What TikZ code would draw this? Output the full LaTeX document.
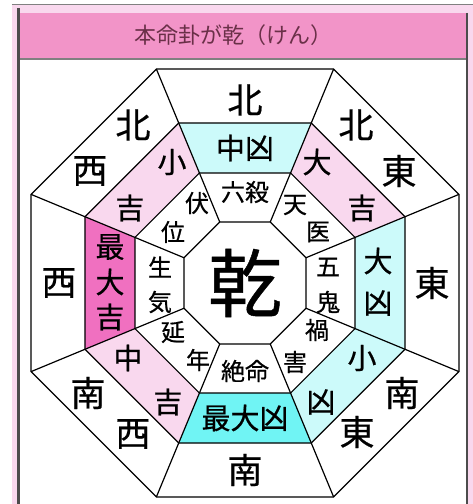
\documentclass[tikz,border=0pt]{standalone}
\usepackage{fontspec}
\setmainfont{Noto Sans CJK JP}
\newfontfamily\zufont{Noto Sans CJK JP}[FakeBold=0.6]
\definecolor{palepink}{HTML}{F9D8EE}
\definecolor{titlepink}{HTML}{F294C8}
\definecolor{hotpink}{HTML}{F070C0}
\definecolor{palecyan}{HTML}{CCFAFA}
\definecolor{hotcyan}{HTML}{70F4F4}
\definecolor{titletext}{HTML}{6A3048}
\tikzset{%
	edge/.style={line width=1.2pt,black,line join=miter},
	houi/.style={inner sep=0pt,font=\zufont\fontsize{35}{35}\selectfont},
	kikkyo/.style={inner sep=0pt,font=\zufont\fontsize{29}{29}\selectfont},
	youso/.style={inner sep=0pt,font=\zufont\fontsize{24}{24}\selectfont}
}

\begin{document}
\begin{tikzpicture}[x=1pt,y=1pt]
		\useasboundingbox (-245,-221) rectangle (228,283);

		% frame and title bar
		\fill[palepink] (-233,-221) rectangle (228,278);
		\fill[white] (-225,-221) rectangle (222,224);
		\fill[titlepink] (-225,224) rectangle (222,270);
		\draw[gray,line width=1.5pt] (-233,278.5)--(228,278.5);
		\draw[gray,line width=1.2pt] (-225,224)--(222,224);
		\draw[black!70,line width=2.5pt] (-226.5,275)--(-226.5,-221);
		\draw[black!70,line width=1.5pt] (222,270)--(222,-221);
		\node[font=\fontsize{22}{22}\selectfont,text=titletext] (title) at (-11,248) {本命卦が乾（けん）};

		% coloured ring
		\foreach \a/\c in {90/palecyan,45/palepink,0/palecyan,-45/palecyan,-90/hotcyan,-135/palepink,180/hotpink,135/palepink}
			\fill[\c] ({\a-22.5}:119.1)--({\a-22.5}:173.2)--({\a+22.5}:173.2)--({\a+22.5}:119.1)--cycle;

		% octagons and spokes
		\foreach \r in {66,119.1,173.2,231.6}
			\draw[edge] (22.5:\r)--(67.5:\r)--(112.5:\r)--(157.5:\r)--(202.5:\r)--(247.5:\r)--(292.5:\r)--(337.5:\r)--cycle;
		\foreach \a in {22.5,67.5,...,337.5}
			\draw[edge] (\a:66)--(\a:231.6);

		\node[inner sep=0pt,font=\zufont\fontsize{74}{74}\selectfont] (gua) at (0,0) {乾};

		% directions
		\node[houi] (dirN) at (0,183) {北};
		\node[houi] (dirS) at (0,-187) {南};
		\node[houi] (dirW) at (-186,0) {西};
		\node[houi] (dirE) at (187,0) {東};
		\node[houi] (dirNWa) at (-112,158) {北};
		\node[houi] (dirNWb) at (-155,112) {西};
		\node[houi] (dirNEa) at (111,158) {北};
		\node[houi] (dirNEb) at (154,112) {東};
		\node[houi] (dirSWa) at (-157,-110) {南};
		\node[houi] (dirSWb) at (-112,-151) {西};
		\node[houi] (dirSEa) at (157,-110) {南};
		\node[houi] (dirSEb) at (112,-149) {東};

		% fortune
		\node[kikkyo] (kiN) at (0,135) {中凶};
		\node[kikkyo] (kiS) at (0,-135) {最大凶};
		\node[kikkyo] (kiWa) at (-135,36) {最};
		\node[kikkyo] (kiWb) at (-135,1) {大};
		\node[kikkyo] (kiWc) at (-135,-34) {吉};
		\node[kikkyo] (kiEa) at (133,22) {大};
		\node[kikkyo] (kiEb) at (133,-20) {凶};
		\node[kikkyo] (kiNWa) at (-73,121) {小};
		\node[kikkyo] (kiNWb) at (-115,75) {吉};
		\node[kikkyo] (kiNEa) at (72,121) {大};
		\node[kikkyo] (kiNEb) at (117,75) {吉};
		\node[kikkyo] (kiSWa) at (-117,-75) {中};
		\node[kikkyo] (kiSWb) at (-77,-119) {吉};
		\node[kikkyo] (kiSEa) at (117,-75) {小};
		\node[kikkyo] (kiSEb) at (76,-119) {凶};

		% stars
		\node[youso] (yoN) at (0,91) {六殺};
		\node[youso] (yoS) at (0,-88) {絶命};
		\node[youso] (yoWa) at (-85,16) {生};
		\node[youso] (yoWb) at (-85,-19) {気};
		\node[youso] (yoEa) at (83,16) {五};
		\node[youso] (yoEb) at (83,-19) {鬼};
		\node[youso] (yoNWa) at (-48,80) {伏};
		\node[youso] (yoNWb) at (-72,51) {位};
		\node[youso] (yoNEa) at (50,78) {天};
		\node[youso] (yoNEb) at (73,51) {医};
		\node[youso] (yoSWa) at (-72,-49) {延};
		\node[youso] (yoSWb) at (-47,-77) {年};
		\node[youso] (yoSEa) at (72,-47) {禍};
		\node[youso] (yoSEb) at (50,-79) {害};

	\end{tikzpicture}
\end{document}
